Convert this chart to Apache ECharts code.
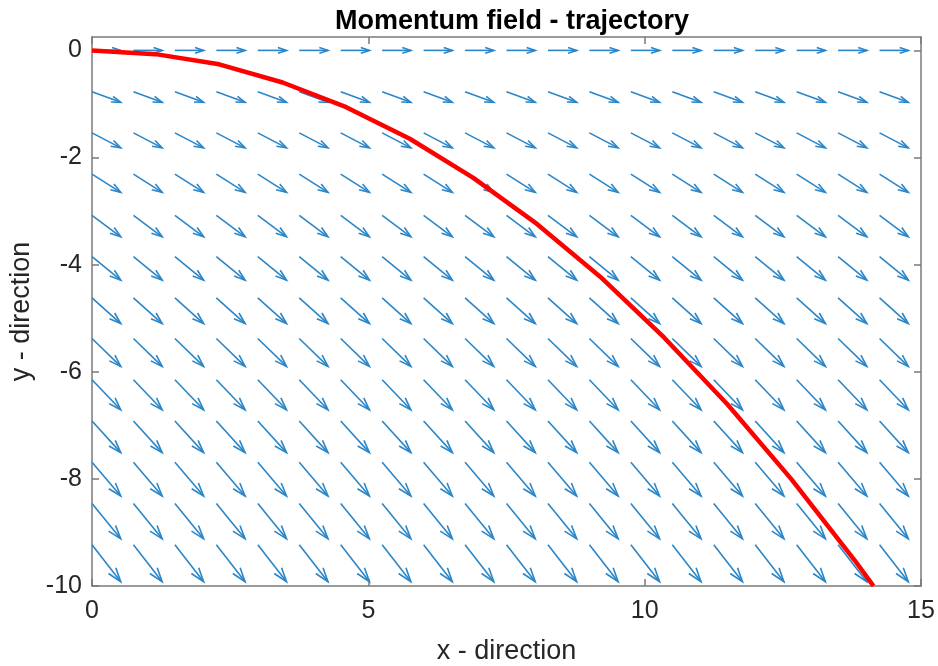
<!DOCTYPE html>
<html>
<head>
<meta charset="utf-8">
<script src="https://cdn.jsdelivr.net/npm/echarts@6/dist/echarts.min.js"></script>
<style>html,body{margin:0;padding:0;background:#fff}#c{width:938px;height:666px}</style>
</head>
<body>
<div id="c"></div>
<script>
// Quiver grid (arrow tails)
const xGrid = [0, 0.75, 1.5, 2.25, 3, 3.75, 4.5, 5.25, 6, 6.75, 7.5, 8.25, 9, 9.75, 10.5, 11.25, 12, 12.75, 13.5, 14.25];
const yGrid = [0, -0.77, -1.54, -2.31, -3.08, -3.85, -4.62, -5.38, -6.15, -6.92, -7.69, -8.46, -9.23];
// Arrow components (per row, as drawn)
const rowU = [0.52, 0.52, 0.52, 0.52, 0.52, 0.52, 0.52, 0.52, 0.52, 0.52, 0.52, 0.52, 0.52];
const rowV = [0, -0.20, -0.28, -0.34, -0.40, -0.44, -0.48, -0.52, -0.56, -0.59, -0.63, -0.66, -0.69];
// Trajectory
const trajX = [0, 1.15, 2.3, 3.45, 4.6, 5.75, 6.9, 8.05, 9.2, 10.35, 11.5, 12.65, 13.8, 14.14];
const trajY = [0, -0.07, -0.26, -0.6, -1.06, -1.65, -2.38, -3.24, -4.23, -5.36, -6.61, -8.0, -9.52, -10];
// Ticks
const xTicks = [0, 5, 10, 15];
const yTicks = [-10, -8, -6, -4, -2, 0];

const quiverData = [];
yGrid.forEach((y, r) => xGrid.forEach(x => quiverData.push([x, y, rowU[r], rowV[r]])));
const trajData = trajX.map((x, i) => [x, trajY[i]]);

const axisColor = '#7a7a7a';
const labelColor = '#262626';
const font = '"Liberation Sans", Arial, sans-serif';

const chart = echarts.init(document.getElementById('c'), null, {renderer: 'canvas'});
const commonAxis = {
  axisLine: {show: true, onZero: false, lineStyle: {color: axisColor, width: 1.5}},
  axisTick: {show: true, inside: true, length: 7, lineStyle: {color: axisColor, width: 1.5}},
  splitLine: {show: false}
};
chart.setOption({
  animation: false,
  backgroundColor: '#fff',
  title: {
    text: 'Momentum field - trajectory',
    left: 507, top: 3, textAlign: 'center',
    textStyle: {fontFamily: font, fontWeight: 'bold', fontSize: 27, color: '#000'}
  },
  grid: {left: 92, right: 17, top: 37, bottom: 80, containLabel: false, outerBoundsMode: 'none'},
  xAxis: [
    Object.assign({}, commonAxis, {
      type: 'value', min: 0, max: 15, interval: 5, position: 'bottom',
      name: 'x - direction', nameLocation: 'middle', nameGap: 52,
      nameTextStyle: {fontFamily: font, fontSize: 27, color: labelColor},
      axisLabel: {fontFamily: font, fontSize: 25, color: labelColor, margin: 13, customValues: xTicks},
      axisTick: Object.assign({}, commonAxis.axisTick, {customValues: xTicks})
    }),
    Object.assign({}, commonAxis, {
      type: 'value', min: 0, max: 15, interval: 5, position: 'top',
      axisLabel: {show: false},
      axisTick: Object.assign({}, commonAxis.axisTick, {customValues: xTicks})
    })
  ],
  yAxis: [
    Object.assign({}, commonAxis, {
      type: 'value', min: -10, max: 0.25, position: 'left',
      name: 'y - direction', nameLocation: 'middle', nameGap: 57, nameRotate: 90,
      nameTextStyle: {fontFamily: font, fontSize: 27, color: labelColor},
      axisLabel: {fontFamily: font, fontSize: 25, color: labelColor, margin: 10, customValues: yTicks},
      axisTick: Object.assign({}, commonAxis.axisTick, {customValues: yTicks})
    }),
    Object.assign({}, commonAxis, {
      type: 'value', min: -10, max: 0.25, position: 'right',
      axisLabel: {show: false},
      axisTick: Object.assign({}, commonAxis.axisTick, {customValues: yTicks})
    })
  ],
  series: [
    {
      type: 'custom',
      xAxisIndex: 0, yAxisIndex: 0,
      data: quiverData,
      clip: false,
      renderItem: function (params, api) {
        const x = api.value(0), y = api.value(1), u = api.value(2), v = api.value(3);
        const p0 = api.coord([x, y]);
        const p1 = api.coord([x + u, y + v]);
        const dx = p1[0] - p0[0], dy = p1[1] - p0[1];
        const a = 0.3, b = 0.33;
        const bx = p1[0] - a * dx, by = p1[1] - a * dy;
        const h1 = [bx + a * b * dy, by - a * b * dx];
        const h2 = [bx - a * b * dy, by + a * b * dx];
        const style = {stroke: '#2a86c8', lineWidth: 1.6, fill: null};
        return {
          type: 'group',
          children: [
            {type: 'polyline', shape: {points: [p0, p1]}, style: style},
            {type: 'polyline', shape: {points: [h1, p1, h2]}, style: style}
          ]
        };
      },
      z: 2
    },
    {
      type: 'line',
      data: trajData,
      showSymbol: false,
      symbol: 'none',
      lineStyle: {color: '#ff0000', width: 4.5},
      z: 3
    }
  ]
});
</script>
</body>
</html>
